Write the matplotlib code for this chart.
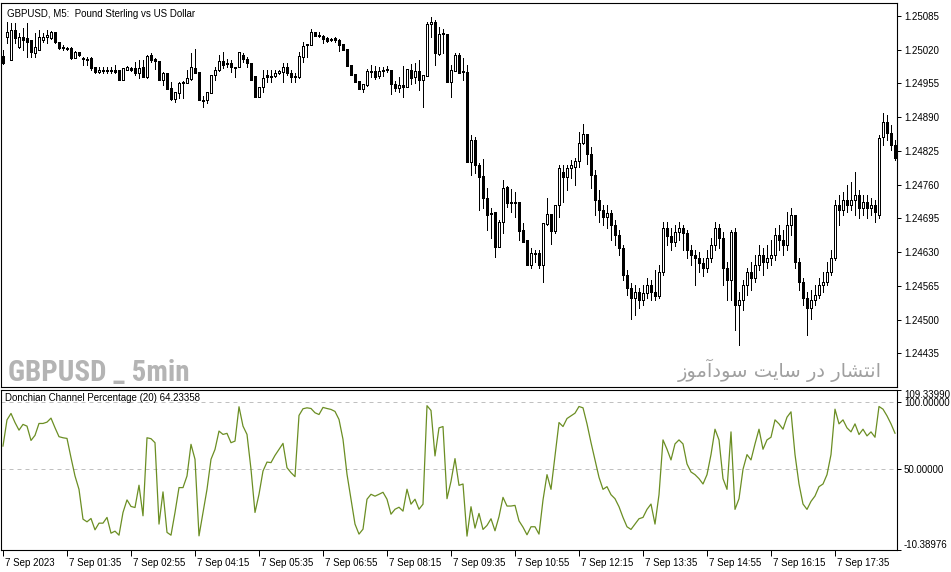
import matplotlib.pyplot as plt
import numpy as np
from matplotlib.ticker import FormatStrFormatter
from matplotlib.transforms import ScaledTranslation

plt.rcParams['font.family'] = ['Liberation Sans', 'DejaVu Sans']

# GBPUSD M5, 7 Sep 2023, 00:15 .. 18:50
open_ = [
    1.25008, 1.25045, 1.25000, 1.25058, 1.25025, 1.25045, 1.25043, 1.25039, 1.25014, 1.25020, 1.25039, 1.25045, 1.25043, 1.25054, 1.25035, 1.25025,
    1.25023, 1.25023, 1.25004, 1.25016, 1.25004, 1.25002, 1.25004, 1.24987, 1.24977, 1.24981, 1.24979, 1.24981, 1.24981, 1.24981, 1.24962, 1.24981,
    1.24985, 1.24985, 1.24975, 1.24987, 1.24967, 1.25010, 1.25002, 1.24998, 1.24962, 1.24975, 1.24946, 1.24925, 1.24937, 1.24956, 1.24956, 1.24963,
    1.24985, 1.24977, 1.24923, 1.24923, 1.24937, 1.24971, 1.24981, 1.24998, 1.24994, 1.24994, 1.24987, 1.24987, 1.25010, 1.25002, 1.24994, 1.24969,
    1.24929, 1.24948, 1.24971, 1.24969, 1.24969, 1.24975, 1.24977, 1.24987, 1.24975, 1.24969, 1.24967, 1.25006, 1.25029, 1.25029, 1.25054, 1.25048,
    1.25047, 1.25043, 1.25041, 1.25043, 1.25039, 1.25031, 1.25021, 1.24990, 1.24973, 1.24960, 1.24944, 1.24952, 1.24979, 1.24979, 1.24969, 1.24979,
    1.24981, 1.24981, 1.24954, 1.24946, 1.24952, 1.24948, 1.24981, 1.24967, 1.24979, 1.24962, 1.24969, 1.25070, 1.25074, 1.25012, 1.25050, 1.25050,
    1.24958, 1.24979, 1.25010, 1.24979, 1.24977, 1.24803, 1.24846, 1.24798, 1.24776, 1.24734, 1.24705, 1.24707, 1.24639, 1.24688, 1.24755, 1.24726,
    1.24724, 1.24726, 1.24672, 1.24653, 1.24605, 1.24628, 1.24628, 1.24605, 1.24684, 1.24703, 1.24670, 1.24721, 1.24784, 1.24774, 1.24792, 1.24794,
    1.24805, 1.24840, 1.24858, 1.24819, 1.24778, 1.24730, 1.24711, 1.24697, 1.24705, 1.24682, 1.24663, 1.24637, 1.24586, 1.24560, 1.24541, 1.24553,
    1.24537, 1.24551, 1.24566, 1.24553, 1.24545, 1.24591, 1.24676, 1.24661, 1.24649, 1.24668, 1.24676, 1.24666, 1.24634, 1.24624, 1.24618, 1.24608,
    1.24599, 1.24618, 1.24643, 1.24676, 1.24657, 1.24599, 1.24576, 1.24668, 1.24528, 1.24537, 1.24566, 1.24591, 1.24580, 1.24605, 1.24624, 1.24610,
    1.24618, 1.24624, 1.24663, 1.24653, 1.24643, 1.24682, 1.24701, 1.24610, 1.24572, 1.24541, 1.24522, 1.24537, 1.24547, 1.24566, 1.24572, 1.24591,
    1.24618, 1.24721, 1.24711, 1.24730, 1.24721, 1.24730, 1.24740, 1.24715, 1.24726, 1.24715, 1.24721, 1.24701, 1.24852, 1.24881, 1.24859, 1.24836,
]
high = [
    1.25020, 1.25074, 1.25072, 1.25072, 1.25052, 1.25062, 1.25072, 1.25039, 1.25052, 1.25058, 1.25052, 1.25058, 1.25056, 1.25054, 1.25035, 1.25029,
    1.25025, 1.25025, 1.25018, 1.25016, 1.25006, 1.25006, 1.25006, 1.24987, 1.24987, 1.24987, 1.24987, 1.24987, 1.24990, 1.24981, 1.24985, 1.24989,
    1.24987, 1.24996, 1.25000, 1.25000, 1.25010, 1.25014, 1.25004, 1.24998, 1.24977, 1.24975, 1.24958, 1.24939, 1.24958, 1.24960, 1.24981, 1.25014,
    1.25021, 1.24977, 1.24931, 1.24939, 1.24971, 1.24987, 1.25010, 1.25016, 1.25002, 1.25000, 1.24987, 1.25016, 1.25014, 1.25006, 1.24994, 1.24969,
    1.24948, 1.24981, 1.24981, 1.24981, 1.24981, 1.24981, 1.24994, 1.24994, 1.24981, 1.24975, 1.25016, 1.25035, 1.25031, 1.25060, 1.25054, 1.25054,
    1.25048, 1.25045, 1.25043, 1.25045, 1.25041, 1.25031, 1.25021, 1.24990, 1.24973, 1.24960, 1.24954, 1.24983, 1.24990, 1.24989, 1.24987, 1.24987,
    1.24989, 1.24981, 1.24960, 1.24967, 1.24989, 1.24983, 1.24992, 1.24994, 1.25000, 1.24971, 1.25074, 1.25083, 1.25077, 1.25064, 1.25060, 1.25050,
    1.24990, 1.25014, 1.25014, 1.25004, 1.24990, 1.24856, 1.24852, 1.24801, 1.24809, 1.24753, 1.24715, 1.24707, 1.24692, 1.24769, 1.24757, 1.24751,
    1.24745, 1.24726, 1.24686, 1.24653, 1.24637, 1.24634, 1.24634, 1.24686, 1.24734, 1.24703, 1.24721, 1.24798, 1.24798, 1.24798, 1.24807, 1.24811,
    1.24861, 1.24877, 1.24858, 1.24832, 1.24788, 1.24749, 1.24721, 1.24721, 1.24711, 1.24692, 1.24672, 1.24643, 1.24595, 1.24570, 1.24566, 1.24560,
    1.24566, 1.24580, 1.24576, 1.24595, 1.24605, 1.24688, 1.24688, 1.24676, 1.24682, 1.24688, 1.24682, 1.24672, 1.24643, 1.24634, 1.24630, 1.24618,
    1.24634, 1.24657, 1.24688, 1.24684, 1.24668, 1.24610, 1.24672, 1.24676, 1.24553, 1.24576, 1.24599, 1.24610, 1.24624, 1.24643, 1.24637, 1.24643,
    1.24653, 1.24676, 1.24682, 1.24672, 1.24707, 1.24715, 1.24701, 1.24618, 1.24580, 1.24553, 1.24557, 1.24566, 1.24580, 1.24591, 1.24610, 1.24634,
    1.24730, 1.24740, 1.24745, 1.24759, 1.24765, 1.24784, 1.24749, 1.24740, 1.24740, 1.24734, 1.24730, 1.24856, 1.24898, 1.24894, 1.24875, 1.24846,
]
low = [
    1.24992, 1.25033, 1.25000, 1.25033, 1.25023, 1.25020, 1.25006, 1.25006, 1.25006, 1.25020, 1.25035, 1.25033, 1.25041, 1.25033, 1.25021, 1.25020,
    1.25020, 1.25002, 1.25004, 1.25008, 1.24990, 1.24990, 1.24981, 1.24975, 1.24975, 1.24975, 1.24975, 1.24975, 1.24975, 1.24962, 1.24962, 1.24981,
    1.24979, 1.24971, 1.24965, 1.24967, 1.24965, 1.24996, 1.24983, 1.24962, 1.24952, 1.24944, 1.24923, 1.24919, 1.24927, 1.24927, 1.24956, 1.24962,
    1.24975, 1.24923, 1.24910, 1.24917, 1.24937, 1.24962, 1.24979, 1.24985, 1.24987, 1.24977, 1.24967, 1.24987, 1.24996, 1.24987, 1.24962, 1.24929,
    1.24929, 1.24939, 1.24958, 1.24958, 1.24967, 1.24973, 1.24958, 1.24971, 1.24958, 1.24958, 1.24965, 1.24996, 1.25006, 1.25029, 1.25047, 1.25045,
    1.25033, 1.25035, 1.25037, 1.25035, 1.25018, 1.25020, 1.24989, 1.24971, 1.24958, 1.24944, 1.24939, 1.24950, 1.24967, 1.24963, 1.24965, 1.24969,
    1.24977, 1.24935, 1.24940, 1.24939, 1.24929, 1.24948, 1.24954, 1.24956, 1.24942, 1.24910, 1.24969, 1.25045, 1.24990, 1.25010, 1.25014, 1.24958,
    1.24929, 1.24979, 1.24975, 1.24962, 1.24803, 1.24778, 1.24782, 1.24711, 1.24715, 1.24672, 1.24657, 1.24620, 1.24639, 1.24666, 1.24717, 1.24707,
    1.24697, 1.24653, 1.24649, 1.24605, 1.24599, 1.24610, 1.24599, 1.24572, 1.24682, 1.24645, 1.24666, 1.24697, 1.24726, 1.24749, 1.24772, 1.24759,
    1.24794, 1.24838, 1.24799, 1.24753, 1.24701, 1.24688, 1.24682, 1.24676, 1.24653, 1.24643, 1.24624, 1.24576, 1.24547, 1.24502, 1.24508, 1.24522,
    1.24528, 1.24541, 1.24537, 1.24537, 1.24541, 1.24586, 1.24643, 1.24634, 1.24641, 1.24653, 1.24634, 1.24618, 1.24605, 1.24566, 1.24591, 1.24584,
    1.24591, 1.24610, 1.24634, 1.24637, 1.24566, 1.24537, 1.24537, 1.24479, 1.24450, 1.24518, 1.24547, 1.24557, 1.24572, 1.24595, 1.24586, 1.24599,
    1.24605, 1.24614, 1.24634, 1.24624, 1.24634, 1.24663, 1.24599, 1.24557, 1.24528, 1.24470, 1.24502, 1.24528, 1.24541, 1.24553, 1.24566, 1.24586,
    1.24614, 1.24682, 1.24701, 1.24707, 1.24711, 1.24701, 1.24695, 1.24701, 1.24695, 1.24701, 1.24688, 1.24695, 1.24836, 1.24846, 1.24827, 1.24807,
]
close = [
    1.24994, 1.25054, 1.25058, 1.25043, 1.25045, 1.25039, 1.25035, 1.25016, 1.25025, 1.25045, 1.25045, 1.25048, 1.25054, 1.25035, 1.25023, 1.25023,
    1.25021, 1.25004, 1.25016, 1.25010, 1.25002, 1.25000, 1.24985, 1.24977, 1.24981, 1.24979, 1.24981, 1.24979, 1.24977, 1.24962, 1.24985, 1.24987,
    1.24981, 1.24975, 1.24985, 1.24967, 1.25008, 1.25000, 1.24998, 1.24962, 1.24975, 1.24944, 1.24925, 1.24939, 1.24956, 1.24958, 1.24965, 1.24987,
    1.24975, 1.24923, 1.24921, 1.24939, 1.24971, 1.24981, 1.24998, 1.24990, 1.24992, 1.24987, 1.24985, 1.25016, 1.25002, 1.24994, 1.24962, 1.24929,
    1.24948, 1.24965, 1.24967, 1.24967, 1.24975, 1.24979, 1.24987, 1.24975, 1.24967, 1.24967, 1.25008, 1.25027, 1.25031, 1.25054, 1.25047, 1.25047,
    1.25041, 1.25037, 1.25039, 1.25039, 1.25029, 1.25020, 1.24989, 1.24971, 1.24958, 1.24944, 1.24954, 1.24979, 1.24977, 1.24967, 1.24979, 1.24981,
    1.24983, 1.24954, 1.24946, 1.24952, 1.24948, 1.24983, 1.24965, 1.24979, 1.24962, 1.24971, 1.25070, 1.25074, 1.25014, 1.25050, 1.25052, 1.24958,
    1.24981, 1.25010, 1.24975, 1.24977, 1.24803, 1.24846, 1.24798, 1.24774, 1.24734, 1.24701, 1.24703, 1.24639, 1.24688, 1.24753, 1.24724, 1.24724,
    1.24726, 1.24670, 1.24649, 1.24605, 1.24628, 1.24626, 1.24605, 1.24686, 1.24703, 1.24670, 1.24721, 1.24792, 1.24774, 1.24792, 1.24798, 1.24805,
    1.24840, 1.24858, 1.24819, 1.24778, 1.24730, 1.24711, 1.24697, 1.24705, 1.24682, 1.24663, 1.24637, 1.24586, 1.24560, 1.24541, 1.24553, 1.24537,
    1.24551, 1.24566, 1.24553, 1.24545, 1.24591, 1.24676, 1.24661, 1.24649, 1.24668, 1.24676, 1.24666, 1.24634, 1.24624, 1.24618, 1.24608, 1.24599,
    1.24618, 1.24643, 1.24676, 1.24657, 1.24599, 1.24576, 1.24668, 1.24528, 1.24537, 1.24566, 1.24591, 1.24580, 1.24605, 1.24624, 1.24610, 1.24618,
    1.24624, 1.24663, 1.24653, 1.24643, 1.24682, 1.24701, 1.24610, 1.24572, 1.24541, 1.24522, 1.24537, 1.24547, 1.24566, 1.24572, 1.24591, 1.24618,
    1.24721, 1.24711, 1.24730, 1.24721, 1.24730, 1.24740, 1.24715, 1.24726, 1.24715, 1.24721, 1.24707, 1.24850, 1.24881, 1.24859, 1.24836, 1.24811,
]

# Donchian Channel Percentage (20)
dcp = [
    67.4, 87.0, 91.8, 85.0, 79.3, 83.6, 82.3, 71.6, 75.4, 84.3, 84.3, 85.3, 88.3, 81.1, 74.4, 73.6,
    73.1, 58.7, 45.0, 35.0, 12.7, 10.7, 13.2, 4.7, 9.7, 9.7, 14.0, 2.2, 3.7, 0.7, 17.7, 27.1,
    22.2, 21.4, 38.1, 15.2, 73.6, 72.9, 69.9, 9.0, 33.1, 2.8, 0.7, 17.7, 36.3, 36.3, 45.0, 68.7,
    57.5, 0.2, 17.7, 35.0, 57.5, 64.9, 78.6, 76.1, 76.9, 69.9, 71.1, 96.8, 82.3, 76.1, 50.0, 17.7,
    31.3, 48.7, 55.4, 55.0, 60.4, 64.9, 69.4, 51.2, 47.5, 44.5, 90.3, 95.3, 96.0, 95.5, 92.3, 91.0,
    96.3, 95.5, 94.8, 93.3, 87.3, 72.4, 46.3, 27.6, 9.0, 1.5, 5.2, 27.6, 31.3, 29.9, 31.3, 32.8,
    27.6, 16.4, 20.1, 21.6, 18.7, 35.1, 23.9, 27.6, 20.1, 23.9, 97.6, 94.0, 60.0, 81.0, 82.0, 28.0,
    41.0, 58.0, 38.0, 39.0, 0.0, 22.0, 6.0, 17.0, 5.0, 8.0, 13.0, 4.0, 14.6, 29.0, 22.5, 22.5,
    23.0, 11.4, 6.7, 1.0, 7.0, 7.0, 1.5, 27.0, 46.0, 35.0, 60.0, 85.0, 82.0, 88.0, 90.0, 92.0,
    97.0, 96.0, 84.0, 70.0, 57.0, 44.0, 35.0, 37.0, 31.0, 28.0, 22.0, 14.0, 7.0, 5.0, 9.0, 13.0,
    14.0, 20.0, 24.0, 9.0, 31.0, 72.0, 65.0, 57.0, 69.0, 72.0, 69.0, 54.0, 48.0, 46.0, 43.0, 39.0,
    46.0, 61.0, 80.0, 72.0, 43.0, 35.0, 78.0, 20.0, 28.0, 50.0, 61.0, 57.0, 69.0, 80.0, 65.0, 72.0,
    74.0, 87.0, 84.0, 80.0, 89.0, 93.0, 61.0, 39.0, 24.0, 20.0, 26.0, 30.0, 37.0, 39.0, 46.0, 61.0,
    95.0, 84.0, 87.0, 81.0, 78.0, 84.0, 76.0, 80.0, 75.0, 78.0, 74.0, 97.0, 95.0, 90.0, 84.0, 77.0,
]

price_ticks = [1.25085, 1.25020, 1.24955, 1.24890, 1.24825, 1.24760, 1.24695, 1.24630, 1.24565, 1.24500, 1.24435]
ind_ticks = [109.33990, 100.0, 50.0, -10.38976]
time_pos = [0, 16, 32, 48, 64, 80, 96, 112, 128, 144, 160, 176, 192, 208]
time_labels = ['7 Sep 2023', '7 Sep 01:35', '7 Sep 02:55', '7 Sep 04:15', '7 Sep 05:35', '7 Sep 06:55',
               '7 Sep 08:15', '7 Sep 09:35', '7 Sep 10:55', '7 Sep 12:15', '7 Sep 13:35', '7 Sep 14:55',
               '7 Sep 16:15', '7 Sep 17:35']

W, H = 951, 572
PX = 72 / 100  # one pixel in points
fig = plt.figure(figsize=(W / 100, H / 100), dpi=100)
ax = fig.add_axes([1 / W, 1 - 387 / H, 896 / W, 384 / H])
ax2 = fig.add_axes([1 / W, 1 - 550 / H, 896 / W, 160 / H])

o = np.array(open_)
c = np.array(close)
x = np.arange(len(c))
up = c >= o

# candles: thin wicks behind, 3px bodies (white = bull, black = bear)
ax.vlines(x, low, high, color='black', lw=PX, antialiased=False, zorder=1)
ax.bar(x, np.abs(c - o), bottom=np.minimum(o, c), width=0.5,
       color=np.where(up, 'white', 'black'), edgecolor='black', linewidth=PX,
       antialiased=False, zorder=2)

ax.set_xlim(-0.5, len(c) - 0.5)
ax.set_ylim(1.24370, 1.25110)
ax.yaxis.tick_right()
ax.set_yticks(price_ticks)
ax.yaxis.set_major_formatter(FormatStrFormatter('%.5f'))
ax.tick_params(axis='y', direction='out', length=3, width=PX, labelsize=7, pad=2)
ax.tick_params(axis='x', bottom=False, labelbottom=False)
for s in ax.spines.values():
    s.set_linewidth(0.8)

ax.text(6 / 896, 1 - 6 / 384, 'GBPUSD, M5:  Pound Sterling vs US Dollar', transform=ax.transAxes,
        fontsize=7, va='top', ha='left')

# indicator
ax2.plot(x, dcp, color='#6b8e23', lw=0.9)
for lv in (100, 50):
    ax2.axhline(lv, color='#c0c0c0', lw=PX, ls=(0, (4, 4)), zorder=0)
ax2.set_xlim(-0.5, len(c) - 0.5)
ax2.set_ylim(ind_ticks[-1], ind_ticks[0])
ax2.yaxis.tick_right()
ax2.set_yticks(ind_ticks)
ax2.yaxis.set_major_formatter(FormatStrFormatter('%.5f'))
ax2.tick_params(axis='y', direction='out', length=3, width=PX, labelsize=7, pad=2)
ylabels = ax2.get_yticklabels()
ylabels[0].set_va('top')
ylabels[-1].set_va('bottom')
ax2.set_xticks(time_pos)
ax2.set_xticklabels(time_labels)
ax2.tick_params(axis='x', direction='out', length=4, width=PX, labelsize=7, pad=2)
off = ScaledTranslation(2 / 100, 0, fig.dpi_scale_trans)
for lbl in ax2.get_xticklabels():
    lbl.set_ha('left')
    lbl.set_transform(lbl.get_transform() + off)
for s in ax2.spines.values():
    s.set_linewidth(0.8)

ax2.text(4 / 896, 1 - 3 / 160, 'Donchian Channel Percentage (20) 64.23358', transform=ax2.transAxes,
         fontsize=7, va='top', ha='left')

# watermarks
fig.text(8 / W, 1 - 381 / H, 'GBPUSD _ 5min', fontsize=21, fontweight='bold', color='#b4b4b4',
         family=['Roboto Condensed', 'Liberation Sans Narrow', 'Liberation Sans'],
         fontstretch='condensed', va='baseline', ha='left')
fa = '\uFEAF\uFEEE\uFEE3\uFE81\uFEA9\uFEEE\uFEB3 \uFE96\uFEF3\uFE8E\uFEB3 \uFEAD\uFEA9 \uFEAD\uFE8E\uFEB8\uFE98\uFEE7\uFE8D'
fig.text(882 / W, 1 - 377 / H, fa, fontsize=14, color='#a0a0a0', family=['DejaVu Sans'],
         va='baseline', ha='right')

fig.savefig('out.png', dpi=100)
